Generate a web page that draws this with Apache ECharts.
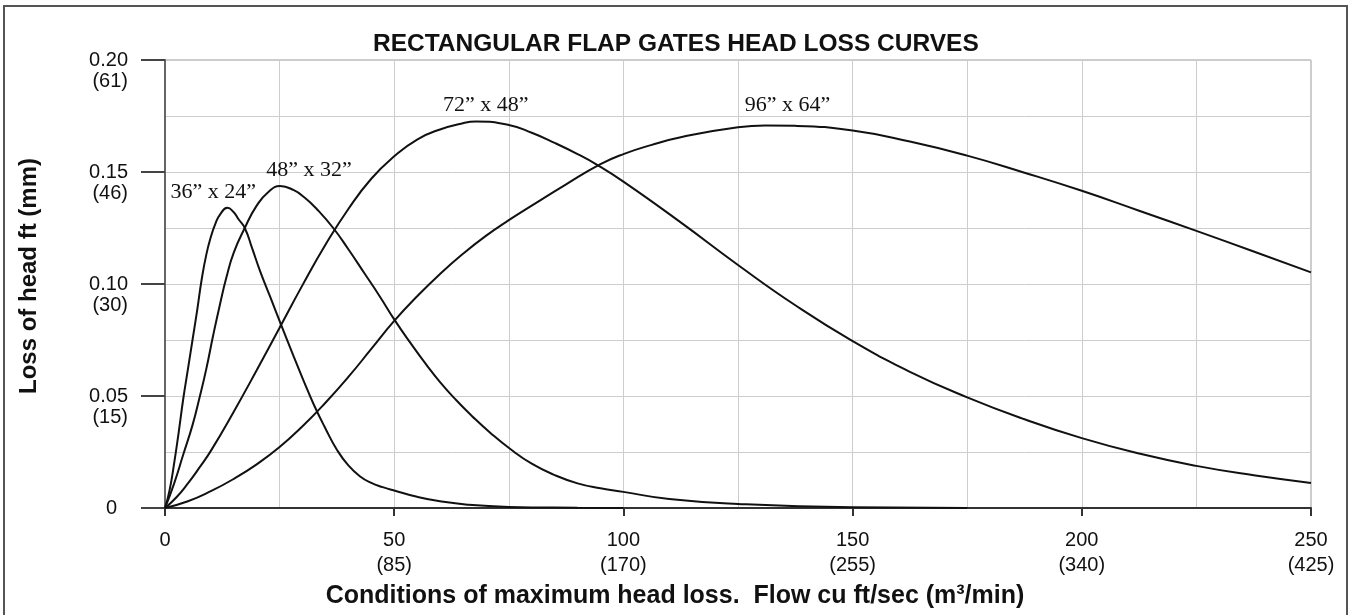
<!DOCTYPE html>
<html>
<head>
<meta charset="utf-8">
<title>Rectangular flap gates head loss curves</title>
<script src="https://cdn.jsdelivr.net/npm/echarts@6/dist/echarts.min.js"></script>
<style>
	html, body { margin: 0; padding: 0; background: #fff; }
	#chart { width: 1354px; height: 615px; }
</style>
</head>
<body>
<div id="chart"></div>
<script>
//flow (cu ft/sec) and head loss (ft)
const gate36Flow = [0, 1, 2, 3, 4, 5, 6, 7, 8, 9, 10, 11, 12, 13.6, 15, 16, 17.4, 19, 20.7, 23, 25.1, 28, 30.2, 32.5, 35, 37.5, 40, 42.5, 45, 47.5, 50, 55, 60, 66, 75, 90, 100];
const gate36Head = [0, 0.008, 0.02, 0.034, 0.049, 0.062, 0.075, 0.088, 0.102, 0.113, 0.121, 0.127, 0.131, 0.134, 0.132, 0.129, 0.125, 0.116, 0.106, 0.094, 0.083, 0.068, 0.057, 0.046, 0.0355, 0.026, 0.019, 0.0142, 0.0112, 0.0093, 0.0078, 0.005, 0.003, 0.0015, 0.0005, 0.0001, 0];

const gate48Flow = [0, 2, 4, 6, 7.5, 9, 10.5, 12, 13.4, 15, 17.4, 20, 22.5, 25.1, 28, 30.5, 33.1, 36.7, 40, 43.5, 47, 50, 53.5, 57, 60, 63.5, 67, 71, 75.4, 80, 85, 90, 95, 100, 110, 125, 150, 175];
const gate48Head = [0, 0.011, 0.024, 0.037, 0.049, 0.062, 0.077, 0.091, 0.103, 0.114, 0.125, 0.135, 0.141, 0.1437, 0.142, 0.1385, 0.1335, 0.125, 0.1155, 0.1048, 0.094, 0.0842, 0.0738, 0.064, 0.0562, 0.0482, 0.041, 0.0335, 0.0262, 0.0198, 0.0147, 0.011, 0.0088, 0.0072, 0.004, 0.0018, 0.0003, 0];

const gate72Flow = [0, 2.5, 5, 7.5, 10, 15, 20, 25, 30, 35, 40, 45, 50, 55, 60, 65, 67.8, 75, 80, 85, 90, 94, 100, 112.5, 125, 137.5, 150, 162.5, 175, 187.5, 200, 212.5, 225, 237.5, 250];
const gate72Head = [0, 0.0048, 0.011, 0.018, 0.0255, 0.043, 0.0615, 0.0805, 0.0995, 0.1175, 0.1335, 0.147, 0.157, 0.1645, 0.169, 0.1718, 0.1725, 0.171, 0.1675, 0.163, 0.158, 0.1535, 0.1457, 0.1275, 0.1085, 0.0905, 0.0745, 0.0608, 0.0494, 0.0396, 0.0312, 0.0243, 0.0188, 0.0146, 0.0112];

const gate96Flow = [0, 5, 10, 15, 20, 25, 30, 35, 40, 45, 50, 55, 60, 65, 70, 75, 80, 87.5, 95, 100, 106, 112.5, 125, 131, 137.5, 150, 162.5, 175, 187.5, 200, 212.5, 225, 237.5, 250];
const gate96Head = [0, 0.003, 0.0075, 0.013, 0.0195, 0.0272, 0.0365, 0.047, 0.0585, 0.071, 0.0835, 0.0945, 0.1045, 0.1135, 0.1215, 0.1285, 0.135, 0.1445, 0.1535, 0.158, 0.162, 0.1655, 0.17, 0.1708, 0.1706, 0.1685, 0.1636, 0.1573, 0.1497, 0.1416, 0.1327, 0.1237, 0.1145, 0.1052];

const gateNames = ['36\u201D x 24\u201D', '48\u201D x 32\u201D', '72\u201D x 48\u201D', '96\u201D x 64\u201D'];

//tick labels, metric value in brackets on the second line
const xTicks = [0, 50, 100, 150, 200, 250];
const xTickMetric = ['', '(85)', '(170)', '(255)', '(340)', '(425)'];
const yTicks = [0, 0.05, 0.10, 0.15, 0.20];
const yTickText = ['0', '0.05', '0.10', '0.15', '0.20'];
const yTickMetric = ['', '(15)', '(30)', '(46)', '(61)'];

const
	SANS = '"Liberation Sans", Arial, sans-serif',
	SERIF = '"Liberation Serif", "Times New Roman", serif',
	INK = '#111',
	GRID_LINE = { show: true, lineStyle: { color: '#cdcdcd', width: 1 } };

function tickIndex(ticks, v) {
	return ticks.findIndex(t => Math.abs(t - v) < 1e-9);
}

function curve(name, xs, ys, offset) {
	return {
		name, type: 'line',
		data: xs.map((x, i) => [x, ys[i]]),
		smooth: 0.5,
		showSymbol: false, symbol: 'none',
		lineStyle: { color: INK, width: 2 },
		itemStyle: { color: INK },
		markPoint: {
			symbol: 'circle', symbolSize: 0,
			data: [{ type: 'max' }],
			label: {
				show: true, position: 'top', distance: 5, offset,
				formatter: () => name,
				color: INK, fontFamily: SERIF, fontSize: 22
			}
		}
	};
}

const chart = echarts.init(document.getElementById('chart'));
chart.setOption({
	animation: false,
	backgroundColor: '#fff',
	title: {
		text: 'RECTANGULAR FLAP GATES HEAD LOSS CURVES',
		left: 368, top: 27,
		textStyle: { fontFamily: SANS, fontSize: 24.5, fontWeight: 'bold', color: INK }
	},
	graphic: [{
		type: 'rect', silent: true,
		shape: { x: 4, y: 6, width: 1343, height: 640 },
		style: { fill: 'none', stroke: '#555', lineWidth: 2 }
	}],
	grid: { left: 165, right: 43, top: 60, bottom: 107, show: true, borderColor: '#999', borderWidth: 1 },
	xAxis: {
		type: 'value', min: 0, max: 250, interval: 50,
		name: 'Conditions of maximum head loss.  Flow cu ft/sec (m\u00B3/min)',
		nameLocation: 'middle', nameGap: 76,
		nameTextStyle: { fontFamily: SANS, fontSize: 25, fontWeight: 'bold', color: INK, padding: [0, 126, 0, 0] },
		axisLine: { lineStyle: { color: '#333', width: 2 } },
		axisTick: { length: 8, lineStyle: { color: '#333', width: 2 } },
		axisLabel: {
			margin: 20, fontFamily: SANS, fontSize: 20, lineHeight: 25, color: INK,
			formatter: v => {
				let i = tickIndex(xTicks, v);
				return i > 0 ? xTicks[i] + '\n' + xTickMetric[i] : String(v);
			}
		},
		splitLine: GRID_LINE,
		minorTick: { show: false, splitNumber: 2 },
		minorSplitLine: GRID_LINE
	},
	yAxis: {
		type: 'value', min: 0, max: 0.2, interval: 0.05,
		name: 'Loss of head ft (mm)',
		nameLocation: 'middle', nameGap: 124,
		nameTextStyle: { fontFamily: SANS, fontSize: 24, fontWeight: 'bold', color: INK, padding: [0, 0, 0, 16] },
		axisLine: { show: true, lineStyle: { color: '#666', width: 2 } },
		axisTick: { show: true, length: 24, lineStyle: { color: '#444', width: 2 } },
		axisLabel: {
			margin: 37, fontFamily: SANS, fontSize: 20, lineHeight: 21, color: INK,
			formatter: v => {
				let i = tickIndex(yTicks, v);
				return i > 0 ? ' \n' + yTickText[i] + '\n' + yTickMetric[i] : '{z|0}';
			},
			rich: { z: { fontFamily: SANS, fontSize: 20, color: INK, padding: [0, 11, 0, 0] } }
		},
		splitLine: GRID_LINE,
		minorTick: { show: false, splitNumber: 2 },
		minorSplitLine: GRID_LINE
	},
	series: [
		curve(gateNames[0], gate36Flow, gate36Head, [-14, 0]),
		curve(gateNames[1], gate48Flow, gate48Head, [29, 0]),
		curve(gateNames[2], gate72Flow, gate72Head, [10, 0]),
		curve(gateNames[3], gate96Flow, gate96Head, [22, -4])
	]
});
</script>
</body>
</html>
